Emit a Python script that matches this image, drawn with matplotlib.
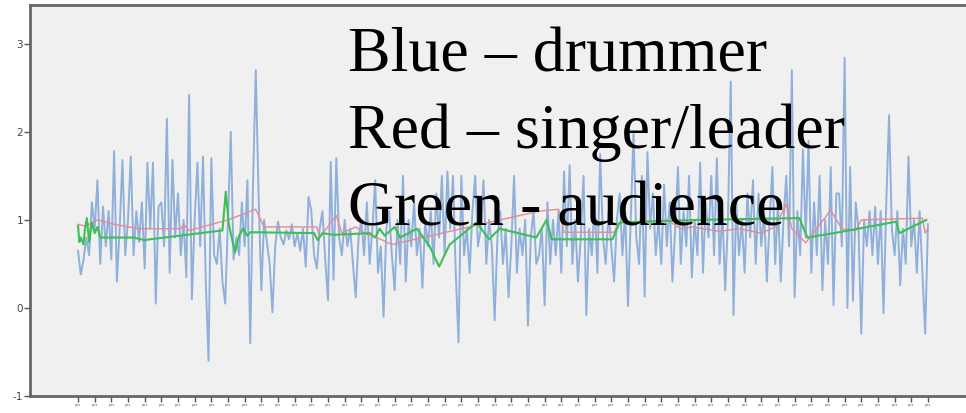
import matplotlib.pyplot as plt
import numpy as np

# drummer (blue), one value per sample
drummer = [
    0.65, 0.38, 0.55, 0.80, 0.60, 1.20, 0.90, 1.45, 0.50, 1.15, 0.70, 1.10,
    0.55, 1.78, 0.30, 0.90, 1.68, 0.60, 1.00, 1.72, 0.60, 1.10, 0.75, 1.20,
    0.45, 1.65, 0.90, 1.65, 0.05, 1.15, 1.20, 0.70, 2.15, 0.40, 1.68, 0.80,
    1.30, 0.60, 1.00, 0.35, 2.42, 0.10, 1.00, 1.65, 0.70, 1.72, 0.30, -0.60,
    1.70, 0.60, 0.50, 0.90, 0.30, 0.05, 1.00, 2.00, 0.55, 0.80, 0.60, 1.20,
    0.70, 1.45, -0.40, 1.40, 2.70, 1.30, 0.20, 1.00, 0.75, 0.50, -0.05, 0.70,
    0.98, 0.80, 0.72, 0.88, 0.78, 0.95, 0.70, 0.85, 0.65, 0.90, 0.47, 1.26,
    1.10, 0.60, 0.45, 0.90, 1.10, 0.55, 0.09, 1.66, 0.32, 1.70, 0.80, 0.60,
    1.00, 0.70, 0.90, 0.50, 0.12, 0.80, 1.00, 0.60, 1.20, 0.50, 0.90, 1.45,
    0.40, 0.70, -0.10, 0.90, 1.10, 0.60, 0.20, 1.00, 0.50, 1.50, 0.30, 1.00,
    0.70, 1.20, 0.60, 0.90, 0.23, 1.00, 0.70, 1.10, 0.50, 1.30, 0.80, 1.50,
    0.60, 1.55, 0.90, 1.50, 0.40, -0.39, 1.50, 0.60, 0.90, 0.40, 1.10, 1.50,
    0.70, 0.90, 1.45, 0.50, 1.00, 0.70, -0.14, 0.80, 1.10, 0.50, 0.90, 0.12,
    0.70, 1.50, 0.40, 0.90, 0.60, 1.00, -0.20, 0.80, 1.10, 0.50, 0.60, 0.90,
    0.03, 1.20, 0.50, 1.00, 0.60, 1.10, 0.40, 1.55, 0.70, 1.62, 0.50, 1.00,
    0.30, 0.80, 1.50, -0.08, 0.90, 0.60, 1.20, 0.40, 1.75, 0.80, 0.50, 1.10,
    0.70, 0.30, 1.00, 1.30, 0.60, 1.10, 0.02, 1.00, 2.00, 0.80, 0.50, 1.50,
    0.13, 1.77, 0.90, 1.30, 0.60, 1.00, 0.50, 1.40, 0.70, 1.20, 0.30, 0.90,
    1.60, 0.50, 1.10, 0.70, 1.50, 0.35, 1.00, 0.60, 1.65, 0.40, 1.20, 0.80,
    1.50, 0.60, 1.70, 0.50, 1.10, 0.20, 1.00, 2.57, -0.08, 1.20, 0.60, 1.00,
    0.40, 1.30, 0.80, 1.45, 0.50, 1.30, 0.70, 1.10, 0.30, 1.00, 1.60, 0.50,
    1.20, 0.30, 1.00, 1.50, 0.70, 2.70, 0.12, 1.10, 0.60, 1.80, 0.80, 1.90,
    0.40, 1.20, 0.60, 1.50, 0.20, 1.00, 0.50, 1.60, 0.03, 1.30, 1.30, 0.70,
    2.84, 0.00, 1.60, 0.08, 1.20, 0.90, -0.29, 1.00, 0.70, 1.10, 0.60, 1.15,
    0.50, 1.10, -0.06, 1.20, 2.19, 0.90, 0.60, 1.10, 0.26, 0.90, 0.50, 1.72,
    0.70, 1.00, 0.40, 1.10, 0.40, -0.29, 0.95,
]

# singer/leader (red), sample index and value
singer_idx = [0, 2.5, 7, 13, 22, 37, 38, 40, 54, 64, 67, 86, 87, 93, 95, 100,
              103, 109, 113, 166, 173, 175, 193, 195, 212, 217, 221, 231, 238,
              246, 251, 255, 257, 262, 271, 275, 280, 282, 304, 305, 306]
singer = [0.95, 0.93, 1.00, 0.95, 0.90, 0.90, 0.95, 0.88, 1.00, 1.12, 0.92,
          0.92, 0.80, 1.05, 0.85, 0.92, 0.85, 0.78, 0.72, 1.10, 1.12, 0.86,
          0.86, 0.97, 1.00, 0.90, 0.92, 0.87, 0.90, 0.85, 0.92, 1.18, 0.90,
          0.74, 1.11, 0.90, 0.88, 1.00, 1.02, 0.85, 0.90]

# audience (green), sample index and value
audience_idx = [0, 0.5, 1, 2, 2.5, 3.2, 4, 5, 6, 7, 8, 20, 24, 26, 52, 53.2,
                54.3, 56.5, 58, 59.4, 61, 62, 85, 86.3, 88, 92, 105, 107,
                108.6, 110.4, 114, 116, 122, 126.6, 130, 133.8, 143.5, 148,
                151.8, 165, 168.7, 170.5, 192.4, 195, 223.7, 259.7, 262.6,
                274, 294.6, 295.7, 305.4]
audience = [0.93, 0.75, 0.80, 0.72, 0.90, 1.02, 0.75, 0.97, 0.85, 0.92, 0.80,
            0.80, 0.77, 0.78, 0.88, 1.32, 0.95, 0.63, 0.82, 0.90, 0.82, 0.86,
            0.85, 0.77, 0.85, 0.83, 0.85, 0.80, 0.90, 0.82, 0.92, 0.80, 0.90,
            0.70, 0.47, 0.72, 0.97, 0.78, 0.90, 0.80, 1.00, 0.78, 0.78, 0.97,
            1.00, 1.02, 0.80, 0.86, 0.98, 0.85, 1.00]

yticks = [-1, 0, 1, 2, 3]
xticks = list(range(0, len(drummer), 6))
legend_lines = ["Blue \u2013 drummer", "Red \u2013 singer/leader", "Green - audience"]

fig = plt.figure(figsize=(9.66, 4.13), dpi=100)
ax = fig.add_axes([0.031, 0.041, 0.969, 0.947])
ax.set_facecolor("#f0f0f0")

ax.plot(np.arange(len(drummer)), drummer, color="#84a9d8", lw=1.4, alpha=0.9)
ax.plot(singer_idx, singer, color="#e88a94", lw=1.0)
ax.plot(audience_idx, audience, color="#3cbf55", lw=1.5)

ax.set_xlim(-17.3, 319.7)
ax.set_ylim(-1, 3.44)
ax.set_yticks(yticks)
ax.set_yticklabels([str(v) for v in yticks], fontsize=7.5, color="#444444")
ax.set_xticks(xticks)
ax.set_xticklabels(["pos"] * len(xticks), fontsize=2.5, color="#555555")
ax.tick_params(axis="y", length=4, width=1, color="#555555", pad=1)
ax.tick_params(axis="x", length=4, width=1, color="#555555", pad=1)

for side in ["left", "bottom", "top"]:
    ax.spines[side].set_color("#666666")
    ax.spines[side].set_linewidth(2)
ax.spines["right"].set_visible(False)

# big serif key written over the plot
for k, line in enumerate(legend_lines):
    fig.text(348 / 966, 1 - (71 + 77 * k) / 413, line, fontsize=46,
             family="Liberation Serif", color="black", va="baseline")

fig.savefig("out.png", dpi=100)
